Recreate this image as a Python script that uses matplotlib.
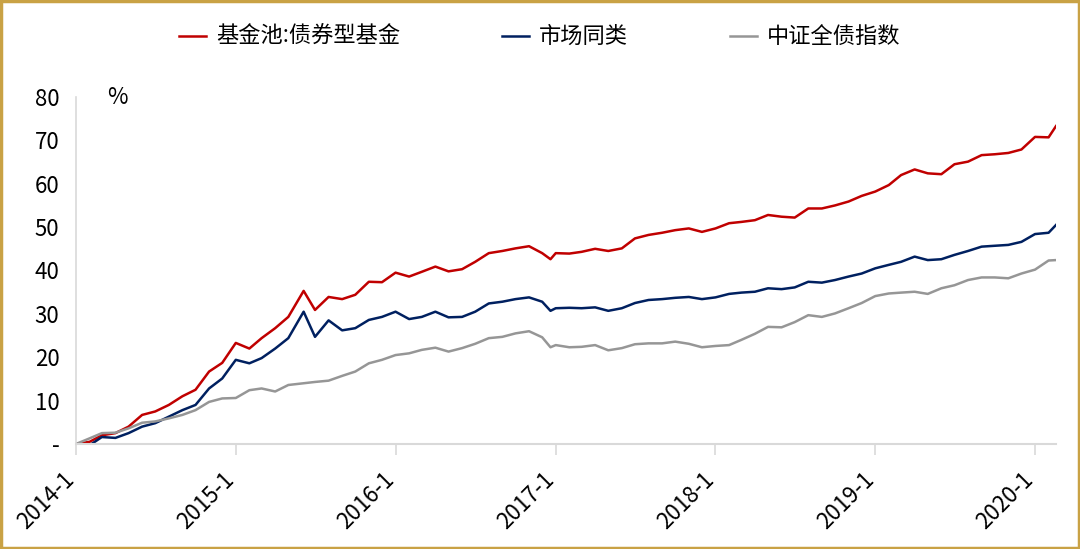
import matplotlib.pyplot as plt
import pandas as pd
from matplotlib.patches import Rectangle
from matplotlib.transforms import ScaledTranslation

plt.rcParams['font.family'] = ['Noto Sans CJK SC', 'DejaVu Sans']

# month-end style sample dates (plus a few turning points)
dates = ['2014-01-01', '2014-02-01', '2014-03-01', '2014-04-01', '2014-05-01', '2014-06-01',
         '2014-07-01', '2014-08-01', '2014-09-01', '2014-10-01', '2014-11-01', '2014-12-01',
         '2015-01-01', '2015-02-01', '2015-03-01', '2015-04-01', '2015-05-01', '2015-06-05',
         '2015-07-01', '2015-08-01', '2015-09-01', '2015-10-01', '2015-11-01', '2015-12-01',
         '2016-01-01', '2016-02-01', '2016-03-01', '2016-04-01', '2016-05-01', '2016-06-01',
         '2016-07-01', '2016-08-01', '2016-09-01', '2016-10-01', '2016-11-01', '2016-12-01',
         '2016-12-20', '2017-01-01', '2017-02-01', '2017-03-01', '2017-04-01', '2017-05-01',
         '2017-06-01', '2017-07-01', '2017-08-01', '2017-09-01', '2017-10-01', '2017-11-01',
         '2017-12-01', '2018-01-01', '2018-02-01', '2018-03-01', '2018-04-01', '2018-05-01',
         '2018-06-01', '2018-07-01', '2018-08-01', '2018-09-01', '2018-10-01', '2018-11-01',
         '2018-12-01', '2019-01-01', '2019-02-01', '2019-03-01', '2019-04-01', '2019-05-01',
         '2019-06-01', '2019-07-01', '2019-08-01', '2019-09-01', '2019-10-01', '2019-11-01',
         '2019-12-01', '2020-01-01', '2020-02-01', '2020-02-18']

fund_pool = [0, 0.5, 2.0, 2.5, 4.0, 6.7, 7.5, 9.0, 11.0, 12.5, 16.7, 18.7,
             23.3, 22.0, 24.4, 26.7, 29.3, 35.3, 30.9, 33.9, 33.4, 34.4, 37.4, 37.3,
             39.5, 38.6, 39.7, 40.9, 39.8, 40.3, 42.0, 44.0, 44.5, 45.1, 45.6, 44.0,
             42.6, 44.0, 43.9, 44.3, 45.0, 44.5, 45.1, 47.4, 48.2, 48.7, 49.3, 49.7,
             48.9, 49.7, 50.9, 51.2, 51.6, 52.8, 52.4, 52.2, 54.3, 54.3, 55.0, 55.9,
             57.2, 58.2, 59.7, 62.0, 63.3, 62.4, 62.2, 64.5, 65.1, 66.6, 66.8, 67.1,
             67.9, 70.8, 70.7, 73.3]

peer_funds = [0, -0.3, 1.6, 1.4, 2.5, 4.0, 4.8, 6.3, 7.8, 9.0, 12.8, 15.1,
              19.4, 18.6, 19.8, 22.0, 24.4, 30.5, 24.7, 28.5, 26.2, 26.7, 28.6, 29.3,
              30.5, 28.8, 29.3, 30.5, 29.2, 29.3, 30.5, 32.4, 32.8, 33.4, 33.8, 32.8,
              30.7, 31.3, 31.4, 31.3, 31.5, 30.7, 31.3, 32.5, 33.2, 33.4, 33.7, 33.9,
              33.4, 33.8, 34.6, 34.9, 35.1, 35.9, 35.7, 36.1, 37.4, 37.2, 37.8, 38.6,
              39.3, 40.5, 41.3, 42.0, 43.2, 42.4, 42.6, 43.6, 44.5, 45.5, 45.7, 45.9,
              46.6, 48.4, 48.7, 50.5]

csi_bond = [0, 1.3, 2.5, 2.6, 3.6, 4.9, 5.2, 5.9, 6.7, 7.8, 9.7, 10.5,
            10.6, 12.4, 12.8, 12.1, 13.6, 14.0, 14.3, 14.6, 15.7, 16.7, 18.6, 19.4,
            20.5, 20.9, 21.7, 22.2, 21.3, 22.1, 23.1, 24.4, 24.7, 25.5, 26.0, 24.6,
            22.3, 22.8, 22.3, 22.4, 22.8, 21.6, 22.1, 23.0, 23.2, 23.2, 23.6, 23.1,
            22.3, 22.6, 22.8, 24.0, 25.4, 27.0, 26.9, 28.1, 29.7, 29.3, 30.1, 31.3,
            32.5, 34.1, 34.7, 34.9, 35.1, 34.6, 35.9, 36.6, 37.8, 38.4, 38.4, 38.2,
            39.3, 40.2, 42.3, 42.4]

series_names = ['基金池:债券型基金', '市场同类', '中证全债指数']
y_ticks = [0, 10, 20, 30, 40, 50, 60, 70, 80]
y_tick_labels = ['-', '10', '20', '30', '40', '50', '60', '70', '80']
x_tick_years = [2014, 2015, 2016, 2017, 2018, 2019, 2020]

x = pd.to_datetime(dates)

fig = plt.figure(figsize=(10.8, 5.49), dpi=100)
ax = fig.add_axes([0.0704, 0.1913, 0.9074, 0.632])

ax.plot(x, fund_pool, color='#C00000', lw=1.8, label=series_names[0])
ax.plot(x, peer_funds, color='#002060', lw=1.8, label=series_names[1])
ax.plot(x, csi_bond, color='#969696', lw=1.8, label=series_names[2])

ax.set_xlim(x[0], x[-1])
ax.set_ylim(0, 80)
ax.set_yticks(y_ticks)
ax.set_yticklabels(y_tick_labels)
ax.tick_params(axis='y', length=0, pad=12, labelsize=16)

tick_dates = pd.to_datetime([f'{y}-01-01' for y in x_tick_years])
ax.set_xticks(tick_dates)
ax.set_xticklabels([f'{y}-1' for y in x_tick_years], rotation=45, ha='right',
                   va='center', rotation_mode='anchor')
ax.tick_params(axis='x', length=8, width=1.2, color='#D9D9D9', pad=15, labelsize=16)
# nudge the rotated labels a little to the left
shift = ScaledTranslation(-0.05, 0, fig.dpi_scale_trans)
for lbl in ax.get_xticklabels():
    lbl.set_transform(lbl.get_transform() + shift)

for side in ['top', 'right']:
    ax.spines[side].set_visible(False)
ax.spines['left'].set_color('#D9D9D9')
ax.spines['bottom'].set_color('#D9D9D9')
ax.spines['left'].set_linewidth(1.2)
ax.spines['bottom'].set_linewidth(1.5)

ax.text(0.032, 1.0, '%', transform=ax.transAxes, fontsize=16, va='center', ha='left')

fig.legend(loc='center', bbox_to_anchor=(0.5, 0.933), ncol=3, frameon=False,
           fontsize=16, handlelength=1.2, handletextpad=0.45, columnspacing=4.6)

fig.patches.append(Rectangle((0.001, 0.002), 0.998, 0.996, transform=fig.transFigure,
                             fill=False, edgecolor='#C9A245', lw=2.5))

fig.savefig('out.png', dpi=100)
